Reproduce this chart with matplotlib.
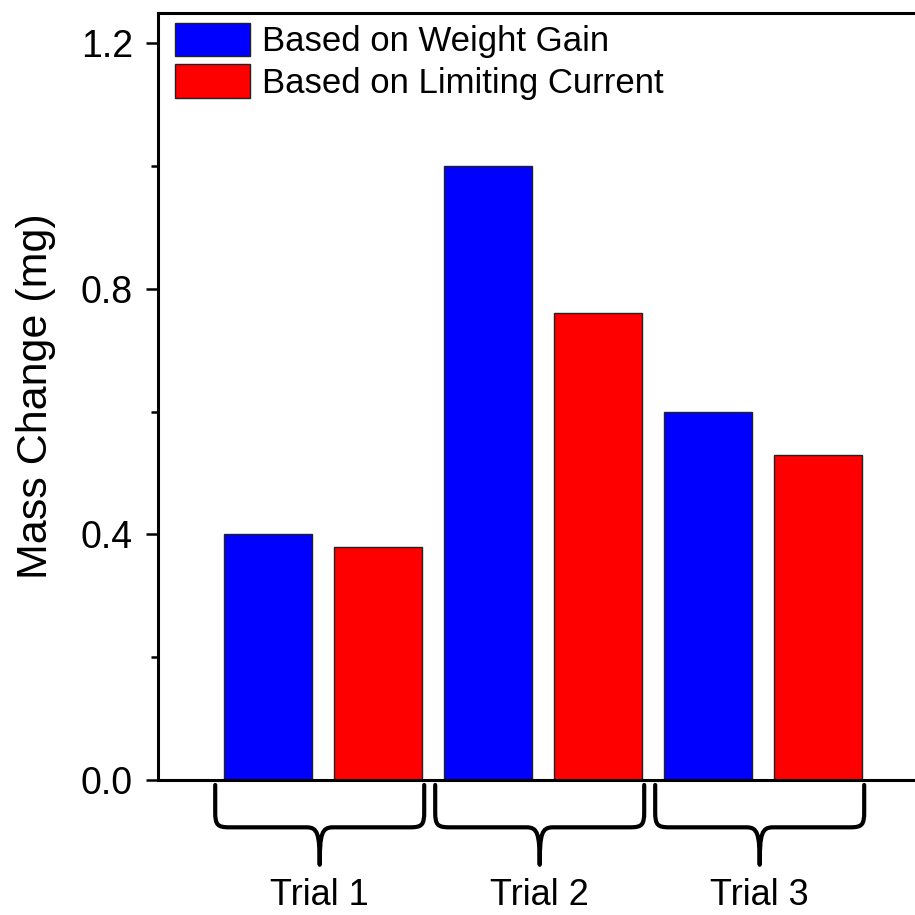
import numpy as np
import matplotlib
matplotlib.use("Agg")
from matplotlib import pyplot as plt
from matplotlib.path import Path
from matplotlib.patches import PathPatch

plt.rcParams['font.family'] = ['Liberation Sans', 'DejaVu Sans']

# data
trials = ['Trial 1', 'Trial 2', 'Trial 3']
weight_gain = [0.40, 1.00, 0.60]
limiting_current = [0.38, 0.76, 0.53]
series_labels = ['Based on Weight Gain', 'Based on Limiting Current']

fig = plt.figure(figsize=(9.15, 9.15), dpi=100)
ax = fig.add_axes([0.1727, 0.1475, 0.8415, 0.8383])

pos_blue = np.arange(len(trials)) * 2 + 1
pos_red = pos_blue + 1
ax.bar(pos_blue, weight_gain, width=0.8, color='#0000ff', edgecolor='#222222',
       linewidth=1, label=series_labels[0])
ax.bar(pos_red, limiting_current, width=0.8, color='#ff0000', edgecolor='#222222',
       linewidth=1, label=series_labels[1])

ax.set_xlim(0, 7)
ax.set_ylim(0, 1.249)
ax.set_yticks([0.0, 0.4, 0.8, 1.2])
ax.set_yticks([0.2, 0.6, 1.0], minor=True)
ax.set_yticklabels(['0.0', '0.4', '0.8', '1.2'])
ax.set_xticks([])
ax.tick_params(axis='y', which='major', length=9, width=1.8, labelsize=27, pad=9)
ax.tick_params(axis='y', which='minor', length=5, width=1.8)
for s in ax.spines.values():
    s.set_linewidth(2.2)
ax.set_ylabel('Mass Change (mg)', fontsize=31, labelpad=18)

# curly braces under each trial, drawn in data coords below the axis
y0, y1, y2 = -0.008, -0.077, -0.138
rx, ry = 0.13, 0.025
for i, name in enumerate(trials):
    c = (pos_blue[i] + pos_red[i]) / 2 - 0.03
    w = 0.95
    verts = [
        (c - w, y0), (c - w, y1 + ry),
        (c - w, y1 + 0.004), (c - w + 0.02, y1), (c - w + rx, y1),
        (c - 0.12, y1),
        (c - 0.02, y1), (c, y1 - 0.01), (c, y2),
        (c, y1 - 0.01), (c + 0.02, y1), (c + 0.12, y1),
        (c + w - rx, y1),
        (c + w - 0.02, y1), (c + w, y1 + 0.004), (c + w, y1 + ry),
        (c + w, y0),
    ]
    codes = [Path.MOVETO, Path.LINETO,
             Path.CURVE4, Path.CURVE4, Path.CURVE4,
             Path.LINETO,
             Path.CURVE4, Path.CURVE4, Path.CURVE4,
             Path.CURVE4, Path.CURVE4, Path.CURVE4,
             Path.LINETO,
             Path.CURVE4, Path.CURVE4, Path.CURVE4,
             Path.LINETO]
    ax.add_patch(PathPatch(Path(verts, codes), facecolor='none', edgecolor='black',
                           linewidth=3, clip_on=False, capstyle='round',
                           joinstyle='round'))
    ax.text(c, -0.188, name, ha='center', va='center', fontsize=26, clip_on=False)

ax.legend(loc='upper left', bbox_to_anchor=(0.022, 0.987), frameon=False,
          fontsize=25, handlelength=2.16, handleheight=1.1, labelspacing=0.17,
          handletextpad=0.35, borderpad=0, borderaxespad=0)

fig.savefig('out.png', dpi=100)
